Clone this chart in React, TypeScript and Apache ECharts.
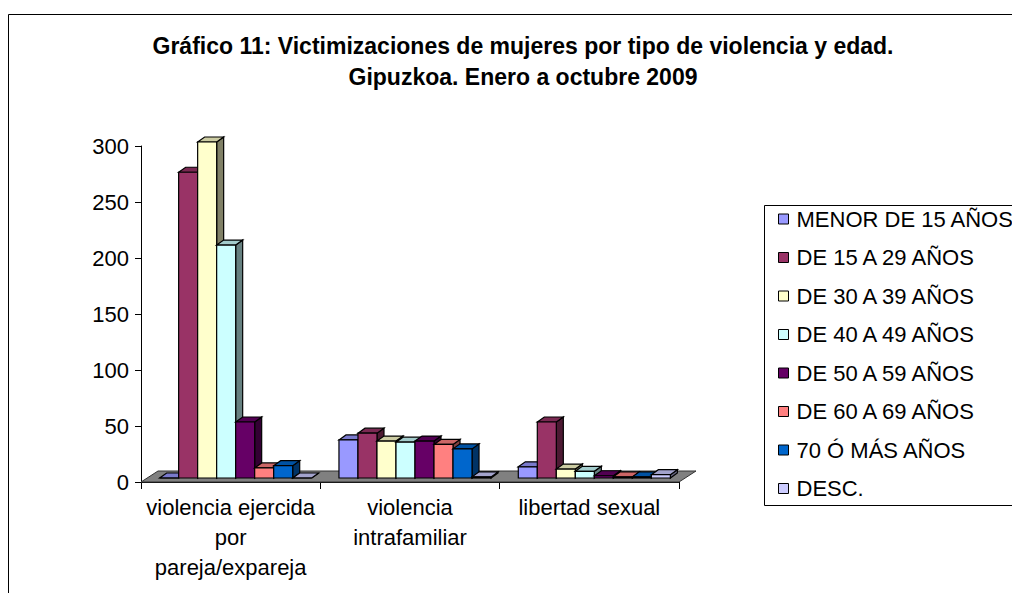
import React, { useEffect, useRef } from 'react';
import * as echarts from 'echarts';

const titleText = 'Gráfico 11: Victimizaciones de mujeres por tipo de violencia y edad.\nGipuzkoa. Enero a octubre 2009';

const categories = ['violencia ejercida\npor\npareja/expareja', 'violencia\nintrafamiliar', 'libertad sexual'];

const seriesNames = [
  'MENOR DE 15 AÑOS',
  'DE 15 A 29 AÑOS',
  'DE 30 A 39 AÑOS',
  'DE 40 A 49 AÑOS',
  'DE 50 A 59 AÑOS',
  'DE 60 A 69 AÑOS',
  '70 Ó MÁS AÑOS',
  'DESC.',
];

const menor15 = [0, 34, 10];
const de15a29 = [273, 40, 50];
const de30a39 = [300, 33, 8];
const de40a49 = [208, 32, 6];
const de50a59 = [50, 33, 2];
const de60a69 = [9, 30, 1];
const de70mas = [11, 26, 1];
const desc = [0, 1, 3];

const seriesValues = [menor15, de15a29, de30a39, de40a49, de50a59, de60a69, de70mas, desc];

const colors = ['#9999FF', '#993366', '#FFFFCC', '#CCFFFF', '#660066', '#FF8080', '#0066CC', '#CCCCFF'];

const yTicks = [0, 50, 100, 150, 200, 250, 300];

const FONT = "'Liberation Sans', Arial, sans-serif";

function shade(hex: string, f: number): string {
  const n = parseInt(hex.slice(1), 16);
  const r = Math.round(((n >> 16) & 255) * f);
  const g = Math.round(((n >> 8) & 255) * f);
  const b = Math.round((n & 255) * f);
  return 'rgb(' + r + ',' + g + ',' + b + ')';
}

export default function App() {
  const ref = useRef<HTMLDivElement>(null);
  useEffect(() => {
    if (!ref.current) return;
    const chart = echarts.init(ref.current, null, { renderer: 'svg' });
    const DX = 7;
    const DY = -5;
    const makeRender = (si: number) => (params: any, api: any) => {
      const ci = api.value(0);
      const v = api.value(1);
      const p0 = api.coord([ci, 0]);
      const p1 = api.coord([ci, v]);
      const band = api.size([1, 0])[0];
      const groupW = band * 0.848;
      const bw = groupW / 8;
      const x = p0[0] - groupW / 2 + si * bw + 5;
      const yb = p0[1] - 4;
      const yt = p1[1] - 4;
      const c = colors[si];
      const stroke = { stroke: '#000', lineWidth: 1.2 };
      return {
        type: 'group',
        children: [
          {
            type: 'polygon',
            shape: { points: [[x + bw, yt], [x + bw + DX, yt + DY], [x + bw + DX, yb + DY], [x + bw, yb]] },
            style: { fill: shade(c, 0.5), ...stroke },
          },
          {
            type: 'polygon',
            shape: { points: [[x, yt], [x + DX, yt + DY], [x + bw + DX, yt + DY], [x + bw, yt]] },
            style: { fill: shade(c, 0.8), ...stroke },
          },
          {
            type: 'rect',
            shape: { x: x, y: yt, width: bw, height: yb - yt },
            style: { fill: c, ...stroke },
          },
        ],
      };
    };

    const series = seriesNames.map((name, si) => ({
      name,
      type: 'custom',
      renderItem: makeRender(si),
      itemStyle: { color: colors[si] },
      encode: { x: 0, y: 1 },
      data: seriesValues[si].map((v, ci) => [ci, v]),
      z: 3,
    }));

    chart.setOption({
      animation: false,
      backgroundColor: '#fff',
      title: {
        text: titleText,
        left: 518,
        top: 25,
        textAlign: 'center',
        textStyle: { fontFamily: FONT, fontSize: 23, fontWeight: 'bold', color: '#000', lineHeight: 31 },
      },
      legend: {
        orient: 'vertical',
        left: 773,
        top: 203,
        itemWidth: 10,
        itemHeight: 10,
        itemGap: 16.5,
        icon: 'rect',
        data: seriesNames.map((n, i) => ({
          name: n,
          itemStyle: { color: colors[i], borderColor: '#000', borderWidth: 1 },
        })),
        textStyle: { fontFamily: FONT, fontSize: 22, color: '#000', lineHeight: 22, padding: [0, 0, 0, 3] },
      },
      grid: { left: 141, top: 146, width: 538, height: 336, containLabel: false },
      xAxis: {
        type: 'category',
        data: categories,
        boundaryGap: true,
        axisLine: { lineStyle: { color: '#000', width: 1 } },
        axisTick: { show: true, length: 7, lineStyle: { color: '#000' } },
        axisLabel: { fontFamily: FONT, fontSize: 22, color: '#000', lineHeight: 30, margin: 10, interval: 0 },
      },
      yAxis: {
        type: 'value',
        min: yTicks[0],
        max: yTicks[yTicks.length - 1],
        interval: 50,
        axisLine: { show: true, lineStyle: { color: '#000', width: 1 } },
        axisTick: { show: true, length: 6, lineStyle: { color: '#000' } },
        splitLine: { show: false },
        axisLabel: { fontFamily: FONT, fontSize: 22, color: '#000', margin: 12 },
      },
      graphic: [
        {
          type: 'rect',
          z: 0,
          shape: { x: 8.5, y: 14.5, width: 1100, height: 700 },
          style: { fill: 'none', stroke: '#000', lineWidth: 1 },
        },
        {
          type: 'rect',
          z: 0,
          shape: { x: 764.5, y: 205.5, width: 300, height: 300 },
          style: { fill: 'none', stroke: '#000', lineWidth: 1 },
        },
        {
          type: 'polygon',
          z: 1,
          shape: { points: [[141, 482], [158, 471], [696, 471], [679, 482]] },
          style: { fill: '#808080', stroke: '#333', lineWidth: 1 },
        },
      ],
      series,
    });
    return () => chart.dispose();
  }, []);
  return <div ref={ref} style={{ position: 'fixed', left: 0, top: 0, width: 1012, height: 593 }} />;
}
